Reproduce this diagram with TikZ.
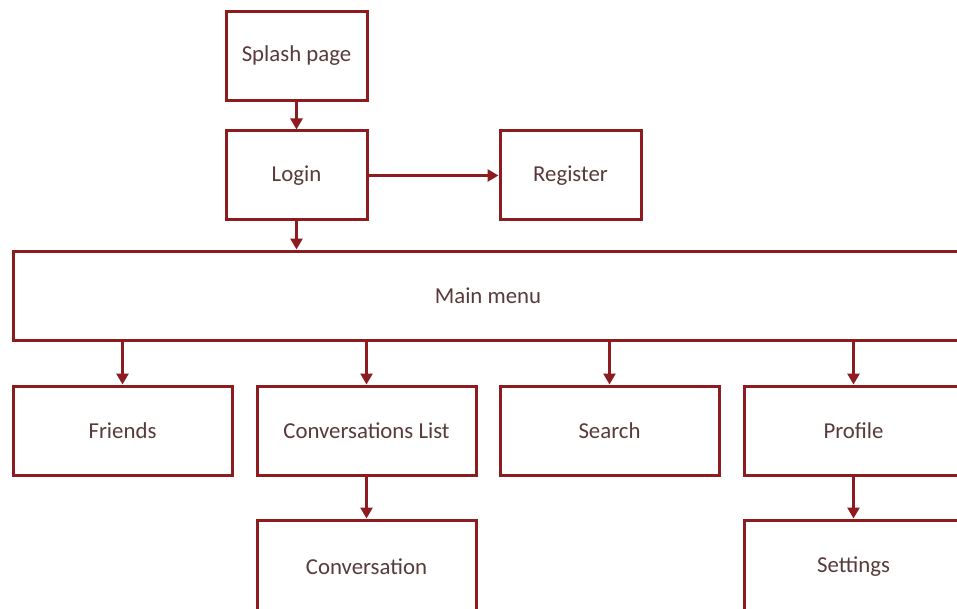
\documentclass[tikz,border=0pt]{standalone}
\usepackage{fontspec}
\setmainfont{Carlito}
\usetikzlibrary{arrows.meta}
\definecolor{boxred}{RGB}{140,28,32}
\definecolor{txt}{RGB}{88,58,60}
\begin{document}
\begin{tikzpicture}[x=0.5pt,y=-0.5pt,
  box/.style={draw=boxred,line width=1.5pt,fill=white,text=txt,font=\fontsize{11.4}{13}\selectfont,
    minimum width=#1,minimum height=44.5pt,inner sep=0pt,anchor=center},
  box/.default=109.5pt,
  lowbox/.style={box,minimum height=52pt},
  conn/.style={draw=boxred,line width=1.5pt,-{Triangle[length=5.5pt,width=6pt]}}]
\useasboundingbox (0,0) rectangle (957,609);
\clip (0,0) rectangle (957,609);
\node[box=70.5pt] (splash) at (296.5,56) {Splash page};
\node[box=70.5pt] (login) at (296.5,175.5) {Login};
\node[box=70.5pt] (register) at (570.5,175.5) {Register};
\node[box=475pt] (main) at (488,295.5) {Main menu};
\node[box] (friends) at (122.5,430.5) {Friends};
\node[box] (convlist) at (366.5,430.5) {Conversations List};
\node[box] (search) at (609.5,430.5) {Search};
\node[box] (profile) at (853.5,430.5) {Profile};
\node[lowbox] (conv) at (366.5,572) {};
\node[text=txt,font=\fontsize{11.4}{13}\selectfont] (convt) at (366.5,567) {Conversation};
\node[lowbox] (settings) at (853.5,572) {};
\node[text=txt,font=\fontsize{11.4}{13}\selectfont] (settingst) at (853.5,567) {Settings};
\draw[conn] (splash) -- (login);
\draw[conn] (login) -- (register);
\draw[conn] (login.south) -- (login.south |- main.north);
\draw[conn] (friends.north |- main.south) -- (friends);
\draw[conn] (convlist.north |- main.south) -- (convlist);
\draw[conn] (search.north |- main.south) -- (search);
\draw[conn] (profile.north |- main.south) -- (profile);
\draw[conn] (convlist) -- (conv);
\draw[conn] (profile) -- (settings);
\end{tikzpicture}
\end{document}
